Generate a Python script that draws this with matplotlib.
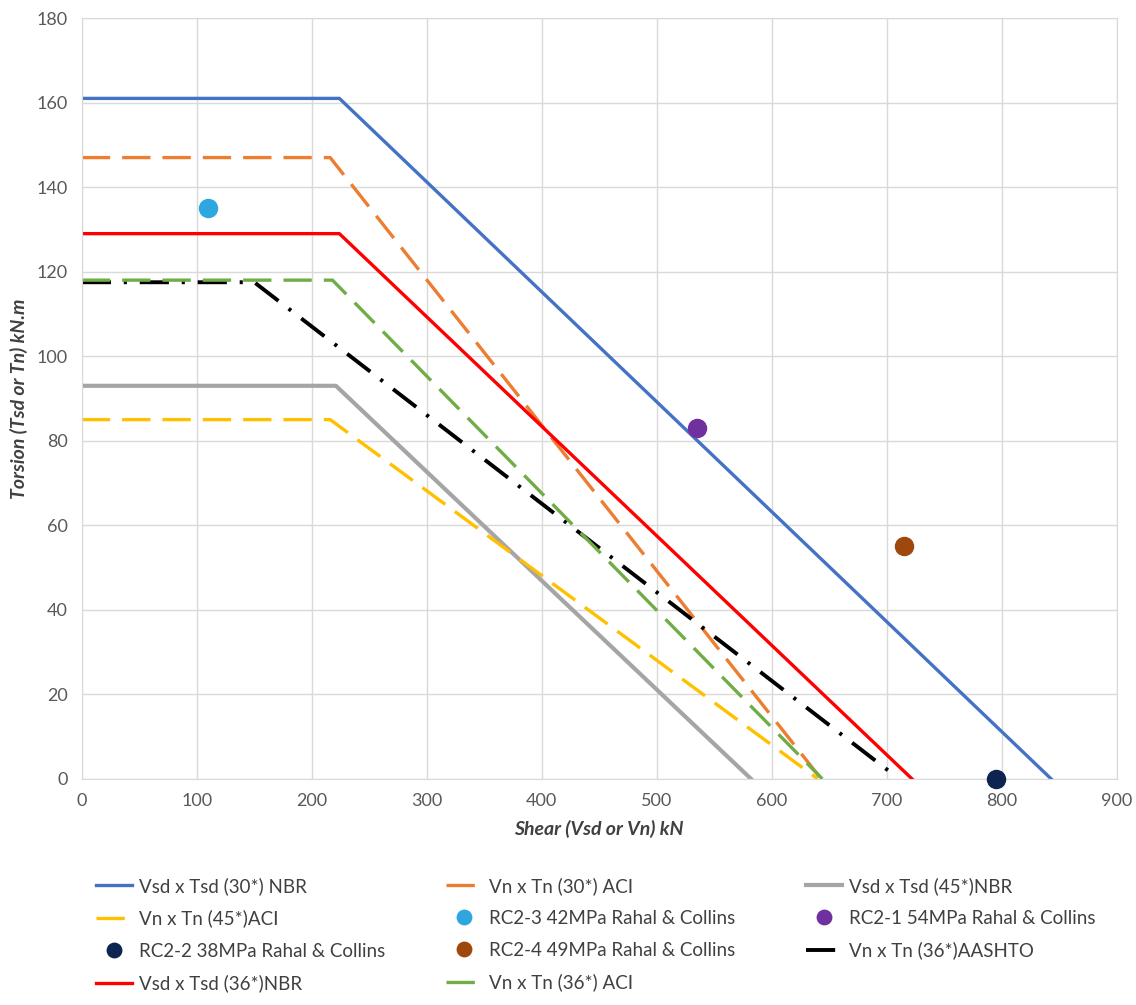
import numpy as np
import matplotlib
matplotlib.use("Agg")
import matplotlib.pyplot as plt

plt.rcParams['font.family'] = ['Lato', 'DejaVu Sans']

# Interaction curves: (shear kN, torsion kN.m) break points
v30_nbr_x = [0, 224, 843]
v30_nbr_y = [161, 161, 0]
v30_aci_x = [0, 216, 643]
v30_aci_y = [147, 147, 0]
v45_nbr_x = [0, 221, 582]
v45_nbr_y = [93, 93, 0]
v45_aci_x = [0, 216, 640]
v45_aci_y = [85, 85, 0]
v36_aashto_x = [0, 150, 706]
v36_aashto_y = [117.5, 117.5, 1]
v36_nbr_x = [0, 224, 722]
v36_nbr_y = [129, 129, 0]
v36_aci_x = [0, 218, 644]
v36_aci_y = [118, 118, 0]

# Test results Rahal & Collins
rc23 = (110, 135)
rc21 = (535, 83)
rc22 = (795, 0)
rc24 = (715, 55)

fig = plt.figure(figsize=(11.36, 10.05), dpi=100)
ax = fig.add_axes([0.072, 0.225, 0.911, 0.757])

lw = 2.4
dash = (8.5, 3.6)
h = {}
h['v30n'], = ax.plot(v30_nbr_x, v30_nbr_y, color='#4472C4', lw=lw, label='Vsd x Tsd (30*) NBR')
h['v30a'], = ax.plot(v30_aci_x, v30_aci_y, color='#ED7D31', lw=lw, dashes=dash, label='Vn x Tn (30*) ACI')
h['v45n'], = ax.plot(v45_nbr_x, v45_nbr_y, color='#A5A5A5', lw=lw + 0.6, label='Vsd x Tsd (45*)NBR')
h['v45a'], = ax.plot(v45_aci_x, v45_aci_y, color='#FFC000', lw=lw, dashes=dash, label='Vn x Tn (45*)ACI')
h['rc23'], = ax.plot(*rc23, 'o', color='#2EA6DF', ms=13, ls='none', label='RC2-3 42MPa Rahal & Collins')
h['rc21'], = ax.plot(*rc21, 'o', color='#7030A0', ms=13, ls='none', label='RC2-1 54MPa Rahal & Collins')
h['rc22'], = ax.plot(*rc22, 'o', color='#0D2350', ms=13, ls='none', label='RC2-2 38MPa Rahal & Collins', clip_on=False, zorder=5)
h['rc24'], = ax.plot(*rc24, 'o', color='#9E480E', ms=13, ls='none', label='RC2-4 49MPa Rahal & Collins')
h['v36s'], = ax.plot(v36_aashto_x, v36_aashto_y, color='black', lw=lw + 0.4, dashes=(7.5, 3.3, 0.8, 3.3), label='Vn x Tn (36*)AASHTO')
h['v36n'], = ax.plot(v36_nbr_x, v36_nbr_y, color='#FF0000', lw=lw, label='Vsd x Tsd (36*)NBR')
h['v36a'], = ax.plot(v36_aci_x, v36_aci_y, color='#70AD47', lw=lw, dashes=dash, label='Vn x Tn (36*) ACI')

ax.set_xlim(0, 900)
ax.set_ylim(0, 180)
ax.set_xticks(np.arange(0, 901, 100))
ax.set_yticks(np.arange(0, 181, 20))
ax.grid(True, color='#D9D9D9', lw=1)
ax.set_axisbelow(True)
for s in ax.spines.values():
    s.set_color('#D9D9D9')
ax.tick_params(length=0, labelsize=13, colors='#595959', pad=10)
ax.set_xlabel('Shear (Vsd or Vn) kN', fontsize=14, fontweight='bold', style='italic', color='#404040', labelpad=8)
ax.set_ylabel('Torsion (Tsd or Tn) kN.m', fontsize=14, fontweight='bold', style='italic', color='#404040', labelpad=6)

# legend as three columns placed like the original
columns = [(['v30n', 'v45a', 'rc22', 'v36n'], 0.078),
           (['v30a', 'rc23', 'rc24', 'v36a'], 0.386),
           (['v45n', 'rc21', 'v36s'], 0.703)]
for keys, x0 in columns:
    hs = [h[k] for k in keys]
    fig.legend(hs, [x.get_label() for x in hs], frameon=False,
               loc='upper left', bbox_to_anchor=(x0, 0.135),
               fontsize=13.5, handlelength=1.9, handletextpad=0.4, labelspacing=0.8,
               markerscale=0.8, labelcolor='#404040', borderaxespad=0)

plt.savefig('out.png', dpi=100)
